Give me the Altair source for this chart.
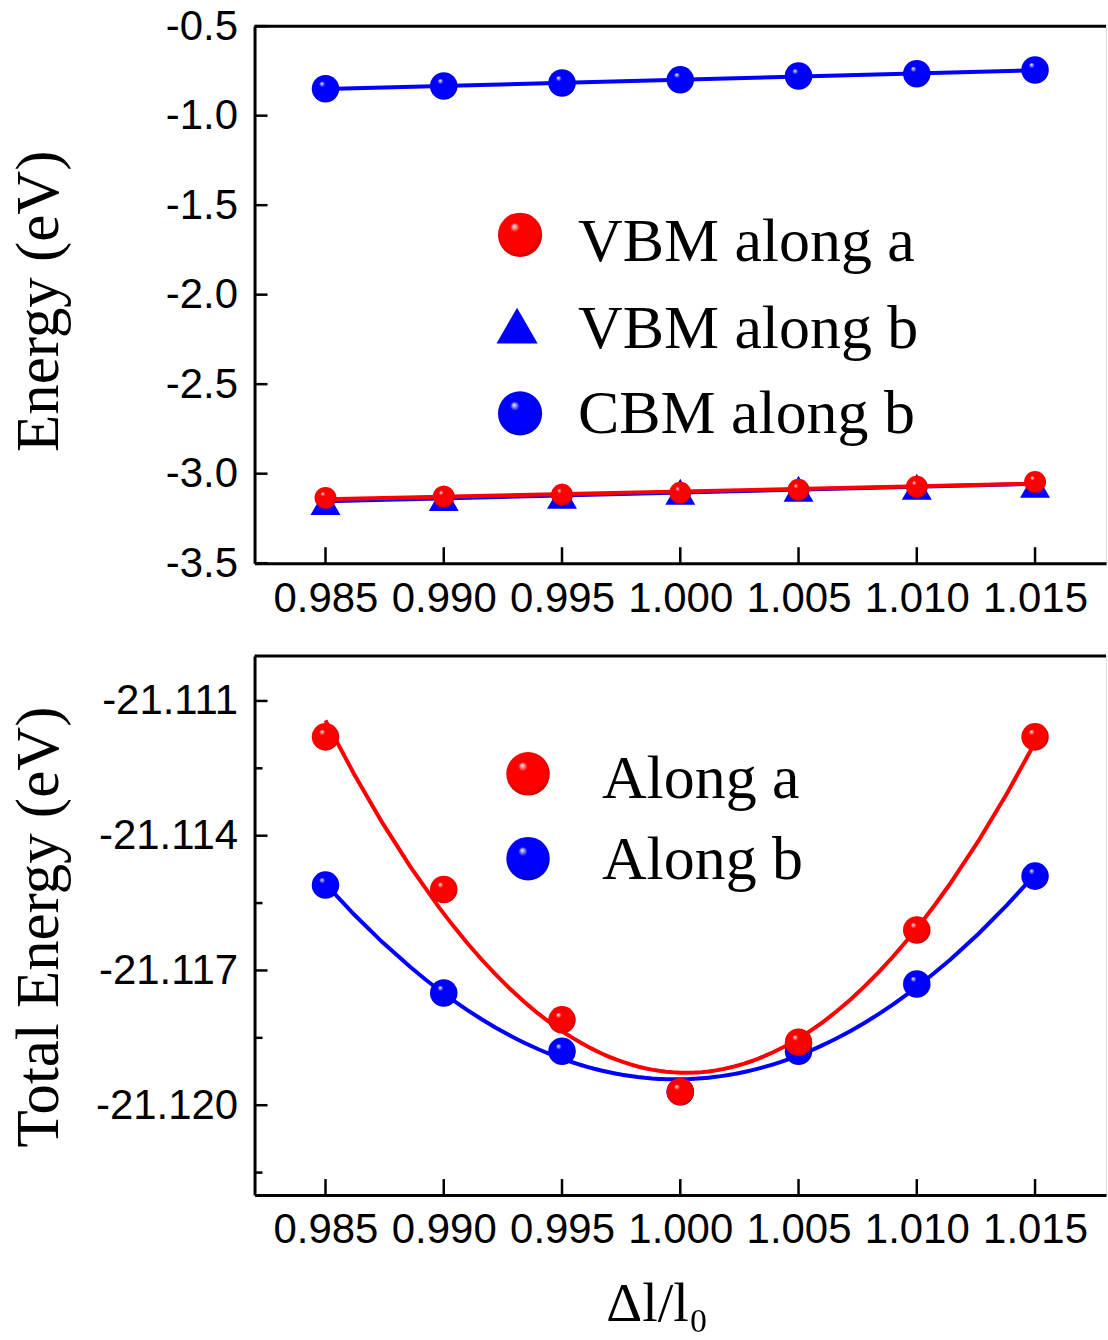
import altair as alt
import pandas as pd

# ---------------- data ----------------
x_vals = [0.985, 0.990, 0.995, 1.000, 1.005, 1.010, 1.015]
vbm_a = [-3.135, -3.128, -3.117, -3.106, -3.090, -3.073, -3.046]
vbm_b = [-3.158, -3.136, -3.124, -3.101, -3.084, -3.073, -3.062]
cbm_b = [-0.850, -0.834, -0.818, -0.800, -0.779, -0.766, -0.745]
tot_a = [-21.1118, -21.1152, -21.1181, -21.1197, -21.1186, -21.1161, -21.1118]
tot_b = [-21.1151, -21.1175, -21.1188, -21.1197, -21.1188, -21.1173, -21.1149]

top_y_ticks = [-3.5, -3.0, -2.5, -2.0, -1.5, -1.0, -0.5]
bot_y_major = [-21.120, -21.117, -21.114, -21.111]
bot_y_minor = [-21.1215, -21.1185, -21.1155, -21.1125]

top_legend = ["VBM along a", "VBM along b", "CBM along b"]
bot_legend = ["Along a", "Along b"]

# ---------------- style ----------------
W = 853
H1 = 538
H2 = 540
RED = "#ff0000"
BLUE = "#0000ff"
LABEL_FONT = "Liberation Sans"
TITLE_FONT = "Liberation Serif"
HYPHEN = "replace(datum.label, '\u2212', '-')"


def sphere(color, dark):
    return alt.RadialGradient(
        gradient="radial", x1=0.36, y1=0.3, r1=0.0, x2=0.5, y2=0.5, r2=0.58,
        stops=[
            alt.GradientStop(offset=0.0, color="#ffffff"),
            alt.GradientStop(offset=0.18, color=color),
            alt.GradientStop(offset=0.75, color=color),
            alt.GradientStop(offset=1.0, color=dark),
        ],
    )


RED_SPH = sphere(RED, "#b00000")
BLUE_SPH = sphere(BLUE, "#0000a8")

xscale = alt.Scale(domain=[0.982, 1.018], nice=False, zero=False)
yscale_top = alt.Scale(domain=[-3.5, -0.5], nice=False, zero=False)
yscale_bot = alt.Scale(domain=[-21.122, -21.110], nice=False, zero=False)

common_axis = dict(
    labelFont=LABEL_FONT, labelFontSize=42, labelColor="black",
    ticks=False, tickSize=0, grid=False, domainColor="black", domainWidth=3,
    labelFlush=False, labelOverlap=False,
)

xaxis_top = alt.Axis(values=x_vals, format=".3f", title=None, labelPadding=15, **common_axis)
xaxis_bot = alt.Axis(
    values=x_vals, format=".3f", title="Δl/l₀", labelPadding=15,
    titleFont=TITLE_FONT, titleFontSize=56, titleFontWeight="normal", titleColor="black",
    titleX=403, titleY=126, titleAlign="center", titleBaseline="alphabetic",
    **common_axis,
)
yaxis_top = alt.Axis(
    values=top_y_ticks, format=".1f", labelExpr=HYPHEN, title="Energy (eV)", labelPadding=17,
    titleFont=TITLE_FONT, titleFontSize=61, titleFontWeight="normal", titleColor="black",
    titleX=-197, titleY=275, titleAlign="center", titleBaseline="alphabetic", titleAngle=270,
    **common_axis,
)
yaxis_bot = alt.Axis(
    values=bot_y_major, format=".3f", labelExpr=HYPHEN, title="Total Energy (eV)", labelPadding=17,
    titleFont=TITLE_FONT, titleFontSize=61, titleFontWeight="normal", titleColor="black",
    titleX=-197, titleY=271, titleAlign="center", titleBaseline="alphabetic", titleAngle=270,
    **common_axis,
)


def enc(df, yscale, xaxis, yaxis):
    return alt.Chart(df).encode(
        x=alt.X("x:Q", scale=xscale, axis=xaxis),
        y=alt.Y("y:Q", scale=yscale, axis=yaxis),
    )


def series(xs, ys):
    return pd.DataFrame({"x": xs, "y": ys})


def panel(series_list, yscale, xaxis, yaxis, H, y_major, y_minor, legend_layers):
    layers = []
    for df, kind, color, fill, method, order, size in series_list:
        base = enc(df, yscale, xaxis, yaxis)
        reg = base.transform_regression("x", "y", method=method, order=order,
                                        extent=[0.985, 1.015])
        layers.append(reg.mark_line(color=color, strokeWidth=4))
    for df, kind, color, fill, method, order, size in series_list:
        base = enc(df, yscale, xaxis, yaxis)
        if kind == "triangle":
            layers.append(base.mark_point(shape="triangle-up", filled=True, fill=color,
                                          stroke=None, size=size, opacity=1))
        else:
            layers.append(base.mark_circle(fill=fill, size=size, opacity=1, stroke=None))
    tick_x = pd.DataFrame({"x": x_vals})
    layers.append(alt.Chart(tick_x).mark_tick(orient="vertical", size=16, thickness=2.5,
                                              color="black", opacity=1).encode(
        x=alt.X("x:Q", scale=xscale, axis=xaxis), y=alt.value(H - 8)))
    tick_y = pd.DataFrame({"y": y_major})
    layers.append(alt.Chart(tick_y).mark_tick(orient="horizontal", size=13, thickness=2.5,
                                              color="black", opacity=1).encode(
        y=alt.Y("y:Q", scale=yscale, axis=yaxis), x=alt.value(6.5)))
    if y_minor:
        tick_m = pd.DataFrame({"y": y_minor})
        layers.append(alt.Chart(tick_m).mark_tick(orient="horizontal", size=8, thickness=2.5,
                                                  color="black", opacity=1).encode(
            y=alt.Y("y:Q", scale=yscale, axis=yaxis), x=alt.value(4)))
    layers.append(alt.Chart(pd.DataFrame({"a": [0]})).mark_rule(color="black", strokeWidth=3).encode(
        x=alt.value(0), x2=alt.value(W), y=alt.value(0)))
    layers += legend_layers
    return alt.layer(*layers).properties(width=W, height=H)


def legend_item(label, marker, mx, my, tx, ty, size):
    df = pd.DataFrame({"label": [label]})
    if marker[0] == "triangle":
        m = alt.Chart(df).mark_point(shape="triangle-up", filled=True, fill=marker[1],
                                     stroke=None, size=size, opacity=1)
    else:
        m = alt.Chart(df).mark_circle(fill=marker[1], size=size, opacity=1, stroke=None)
    m = m.encode(x=alt.value(mx), y=alt.value(my))
    t = alt.Chart(df).mark_text(font=TITLE_FONT, fontSize=62, align="left",
                                baseline="alphabetic", color="black").encode(
        x=alt.value(tx), y=alt.value(ty), text="label:N")
    return [m, t]


top_leg = (
    legend_item(top_legend[0], ("circle", RED_SPH), 266, 209, 324, 235, 1960)
    + legend_item(top_legend[1], ("triangle", BLUE), 263, 300, 324, 322, 1700)
    + legend_item(top_legend[2], ("circle", BLUE_SPH), 266, 388, 324, 408, 1960)
)
bot_leg = (
    legend_item(bot_legend[0], ("circle", RED_SPH), 274, 118, 348, 142, 1900)
    + legend_item(bot_legend[1], ("circle", BLUE_SPH), 274, 203, 348, 223, 1900)
)

top = panel(
    [
        (series(x_vals, vbm_b), "triangle", BLUE, None, "linear", 1, 900),
        (series(x_vals, cbm_b), "circle", BLUE, BLUE_SPH, "linear", 1, 760),
        (series(x_vals, vbm_a), "circle", RED, RED_SPH, "linear", 1, 480),
    ],
    yscale_top, xaxis_top, yaxis_top, H1, top_y_ticks, None, top_leg,
)

bot = panel(
    [
        (series(x_vals, tot_b), "circle", BLUE, BLUE_SPH, "poly", 2, 760),
        (series(x_vals, tot_a), "circle", RED, RED_SPH, "poly", 2, 760),
    ],
    yscale_bot, xaxis_bot, yaxis_bot, H2, bot_y_major, bot_y_minor, bot_leg,
)

chart = alt.vconcat(top, bot, spacing=34).properties(
    padding={"left": 8, "top": 3, "right": 0, "bottom": 0}
).configure_view(stroke=None).configure(background="white")

chart.save("out.html", embed_options={"renderer": "svg", "actions": False})
